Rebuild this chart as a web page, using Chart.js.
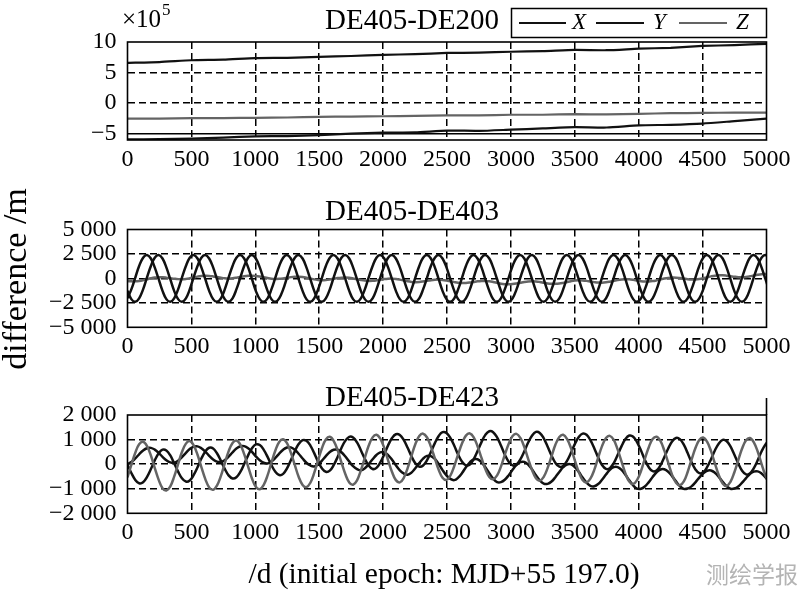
<!DOCTYPE html>
<html><head><meta charset="utf-8">
<script src="https://cdn.jsdelivr.net/npm/chart.js@4.4.1/dist/chart.umd.min.js"></script>
<style>
html,body{margin:0;padding:0;background:#fff;}
#wrap{position:relative;width:800px;height:593px;overflow:hidden;background:#fff;}
canvas{position:absolute;left:0;}
</style></head><body>
<div id="wrap">
<canvas id="c1" width="800" height="170" style="top:0px;width:800px;height:170px"></canvas>
<canvas id="c2" width="800" height="205" style="top:170px;width:800px;height:205px"></canvas>
<canvas id="c3" width="800" height="218" style="top:375px;width:800px;height:218px"></canvas>
</div>
<script>
// ---------- data ----------
const X_TICKS = [0,500,1000,1500,2000,2500,3000,3500,4000,4500,5000];

// Panel 1: DE405-DE200 (x10^5 m)
const P1_DAYS = [0,250,500,750,1000,1250,1500,1750,2000,2250,2500,2750,3000,3250,3500,3750,4000,4250,4500,4750,5000];
const P1_X = [6.58,6.7,7.0,7.1,7.35,7.4,7.55,7.7,7.9,8.0,8.2,8.25,8.4,8.5,8.7,8.65,8.9,9.05,9.35,9.5,9.7];
const P1_Y = [-6.0,-5.95,-5.85,-5.7,-5.5,-5.45,-5.3,-5.05,-4.9,-4.85,-4.55,-4.6,-4.4,-4.2,-4.0,-4.05,-3.7,-3.6,-3.4,-3.0,-2.6];
const P1_Z = [-2.6,-2.6,-2.5,-2.5,-2.45,-2.4,-2.3,-2.25,-2.2,-2.15,-2.05,-2.05,-1.95,-1.95,-1.85,-1.9,-1.8,-1.7,-1.65,-1.6,-1.6];
const P1_YTICKS = [10,5,0,-5];
const P1_YLABELS = ['10','5','0','\u22125'];

// Sampling epochs (days) for panels 2 and 3
const DAYS = [0,30,61,91,122,152,183,213,244,274,304,335,
365,396,426,457,487,517,548,578,609,639,670,700,
731,761,791,822,852,883,913,944,974,1004,1035,1065,
1096,1126,1157,1187,1218,1248,1278,1309,1339,1370,1400,1431,
1461,1491,1522,1552,1583,1613,1644,1674,1705,1735,1765,1796,
1826,1857,1887,1918,1948,1978,2009,2039,2070,2100,2131,2161,
2192,2222,2252,2283,2313,2344,2374,2405,2435,2465,2496,2526,
2557,2587,2618,2648,2679,2709,2739,2770,2800,2831,2861,2892,
2922,2952,2983,3013,3044,3074,3105,3135,3166,3196,3226,3257,
3287,3318,3348,3379,3409,3439,3470,3500,3531,3561,3592,3622,
3653,3683,3713,3744,3774,3805,3835,3866,3896,3926,3957,3987,
4018,4048,4079,4109,4140,4170,4200,4231,4261,4292,4322,4353,
4383,4413,4444,4474,4505,4535,4566,4596,4627,4657,4687,4718,
4748,4779,4809,4840,4870,4900,4931,4961,4992,5022];

// Panel 2: DE405-DE403 (m)
const P2_X = [-2035,-1126,84,1272,2119,2398,2035,1126,-84,-1272,-2119,-2398,
-2035,-1126,84,1272,2119,2398,2035,1126,-84,-1272,-2119,-2398,
-2035,-1126,84,1272,2119,2398,2035,1126,-84,-1272,-2119,-2398,
-2035,-1126,84,1272,2119,2398,2035,1126,-84,-1272,-2119,-2398,
-2035,-1126,84,1272,2119,2398,2035,1126,-84,-1272,-2119,-2398,
-2035,-1126,84,1272,2119,2398,2035,1126,-84,-1272,-2119,-2398,
-2035,-1126,84,1272,2119,2398,2035,1126,-84,-1272,-2119,-2398,
-2035,-1126,84,1272,2119,2398,2035,1126,-84,-1272,-2119,-2398,
-2035,-1126,84,1272,2119,2398,2035,1126,-84,-1272,-2119,-2398,
-2035,-1126,84,1272,2119,2398,2035,1126,-84,-1272,-2119,-2398,
-2035,-1126,84,1272,2119,2398,2035,1126,-84,-1272,-2119,-2398,
-2035,-1126,84,1272,2119,2398,2035,1126,-84,-1272,-2119,-2398,
-2035,-1126,84,1272,2119,2398,2035,1126,-84,-1272,-2119,-2398,
-2035,-1126,84,1272,2119,2398,2035,1126,-84,-1272];
const P2_Y = [-1272,-2119,-2398,-2035,-1126,84,1272,2119,2398,2035,1126,-84,
-1272,-2119,-2398,-2035,-1126,84,1272,2119,2398,2035,1126,-84,
-1272,-2119,-2398,-2035,-1126,84,1272,2119,2398,2035,1126,-84,
-1272,-2119,-2398,-2035,-1126,84,1272,2119,2398,2035,1126,-84,
-1272,-2119,-2398,-2035,-1126,84,1272,2119,2398,2035,1126,-84,
-1272,-2119,-2398,-2035,-1126,84,1272,2119,2398,2035,1126,-84,
-1272,-2119,-2398,-2035,-1126,84,1272,2119,2398,2035,1126,-84,
-1272,-2119,-2398,-2035,-1126,84,1272,2119,2398,2035,1126,-84,
-1272,-2119,-2398,-2035,-1126,84,1272,2119,2398,2035,1126,-84,
-1272,-2119,-2398,-2035,-1126,84,1272,2119,2398,2035,1126,-84,
-1272,-2119,-2398,-2035,-1126,84,1272,2119,2398,2035,1126,-84,
-1272,-2119,-2398,-2035,-1126,84,1272,2119,2398,2035,1126,-84,
-1272,-2119,-2398,-2035,-1126,84,1272,2119,2398,2035,1126,-84,
-1272,-2119,-2398,-2035,-1126,84,1272,2119,2398,2035];
const P2_Z = [-270,-302,-300,-257,-180,-85,10,82,120,117,80,25,
-30,-74,-83,-52,13,97,180,240,267,252,203,137,
70,16,-5,16,70,143,215,265,280,255,195,118,
40,-24,-53,-42,3,67,130,170,177,142,73,-13,
-100,-157,-180,-162,-110,-40,30,77,90,62,0,-80,
-160,-224,-253,-242,-197,-133,-70,-30,-23,-58,-127,-213,
-300,-359,-383,-367,-317,-248,-180,-135,-123,-153,-217,-298,
-380,-445,-477,-467,-423,-362,-300,-261,-257,-293,-363,-452,
-540,-590,-605,-580,-520,-443,-365,-311,-290,-311,-365,-438,
-510,-551,-558,-525,-457,-371,-285,-222,-193,-206,-252,-316,
-380,-424,-433,-402,-337,-253,-170,-110,-83,-98,-147,-213,
-280,-315,-317,-277,-203,-112,-20,49,83,77,37,-22,
-80,-111,-108,-64,13,109,205,278,317,315,278,224,
170,126,115,146,210,293,375,435,460,445];
const P2_YTICKS = [5000,2500,0,-2500,-5000];
const P2_YLABELS = ['5 000','2 500','0','\u22122 500','\u22125 000'];

// Panel 3: DE405-DE423 (m)
const P3_X = [-14,-359,-640,-780,-738,-527,-201,152,441,589,557,354,
35,-302,-574,-707,-663,-449,-125,228,518,667,639,443,
133,-193,-456,-582,-533,-318,7,359,650,802,779,592,
296,-40,-313,-444,-395,-175,159,521,818,975,950,756,
448,103,-176,-312,-264,-44,292,657,956,1112,1084,884,
568,221,-59,-197,-151,68,402,765,1063,1217,1187,986,
668,320,37,-102,-57,159,492,854,1149,1302,1271,1067,
749,390,98,-49,-11,204,536,897,1191,1340,1302,1089,
759,396,99,-52,-17,193,521,878,1167,1312,1271,1053,
719,352,53,-102,-71,137,461,814,1101,1242,1197,977,
641,269,-37,-193,-163,46,374,732,1022,1164,1118,895,
551,178,-129,-286,-256,-49,279,636,925,1066,1020,795,
449,84,-214,-367,-334,-125,201,556,844,987,944,725,
389,27,-269,-419,-384,-172,156,514,804,950];
const P3_Y = [7,87,231,402,554,649,663,593,459,298,156,71,
57,138,285,459,614,711,723,648,509,341,192,103,
87,164,308,481,634,726,733,650,498,319,160,60,
28,105,252,430,588,680,682,589,424,230,56,-54,
-92,-13,141,327,491,587,587,486,310,104,-82,-200,
-251,-167,-2,198,374,478,476,368,177,-47,-249,-377,
-430,-344,-169,42,227,335,330,210,3,-242,-461,-601,
-650,-550,-359,-129,75,195,200,84,-125,-371,-591,-729,
-730,-634,-449,-228,-33,85,90,-20,-217,-452,-661,-791,
-801,-707,-530,-316,-125,-13,-9,-119,-314,-544,-751,-881,
-901,-809,-633,-421,-232,-121,-119,-231,-427,-659,-868,-999,
-1001,-907,-730,-520,-333,-218,-209,-307,-486,-700,-891,-1008,
-992,-904,-740,-546,-373,-267,-258,-350,-516,-714,-891,-999,
-992,-908,-753,-568,-402,-302,-293,-379,-536,-723];
const P3_Z = [-538,-28,464,806,908,741,353,-153,-639,-977,-1073,-902,
-508,2,494,836,938,771,383,-123,-609,-947,-1043,-872,
-478,32,522,864,965,797,408,-98,-586,-924,-1021,-851,
-458,58,556,904,1011,851,468,-32,-512,-844,-935,-757,
-358,158,656,1004,1111,951,568,68,-412,-744,-835,-657,
-254,256,746,1090,1195,1034,654,158,-320,-650,-741,-568,
-160,333,809,1141,1241,1085,715,234,-230,-550,-640,-472,
-77,393,847,1161,1251,1093,727,253,-203,-521,-615,-459,
-102,372,827,1143,1231,1068,697,215,-248,-572,-670,-515,
-160,322,787,1108,1198,1031,650,158,-317,-648,-748,-591,
-225,264,734,1060,1151,983,600,103,-375,-709,-810,-650,
-279,216,691,1021,1115,945,559,58,-425,-761,-861,-699,
-319,177,655,986,1081,914,529,29,-451,-786,-885,-720,
-339,158,636,969,1065,898,514,15,-465,-798];
const P3_YTICKS = [2000,1000,0,-1000,-2000];
const P3_YLABELS = ['2 000','1 000','0','\u22121 000','\u22122 000'];

const SERIES_NAMES = ['X','Y','Z'];
const BLACK = '#111111';
const GRAY = '#646464';

// ---------- helpers ----------
const SERIF = '"Liberation Serif","Times New Roman",serif';
const TEXTS = {};

function pts(days, vals){ return days.map((d,i)=>({x:d, y:vals[i]})); }

const textPlugin = {
  id:'texts',
  afterDraw(chart){
    const items = TEXTS[chart.canvas.id] || [];
    const ctx = chart.ctx;
    items.forEach(it=>{
      ctx.save();
      ctx.font = it.font; ctx.fillStyle = it.color || '#000';
      ctx.textAlign = it.align || 'center'; ctx.textBaseline = 'middle';
      ctx.translate(it.x, it.y); if (it.rot) ctx.rotate(it.rot);
      ctx.fillText(it.t, 0, 0);
      ctx.restore();
    });
  }
};

const framePlugin = {
  id:'frame',
  afterDatasetsDraw(chart){
    const a = chart.chartArea, ctx = chart.ctx;
    ctx.save();
    ctx.strokeStyle = '#000'; ctx.lineWidth = 1.6;
    ctx.strokeRect(a.left, a.top, a.right-a.left, a.bottom-a.top);
    if (chart.canvas.id === 'c3') {
      ctx.beginPath(); ctx.moveTo(a.right, a.top); ctx.lineTo(a.right, a.top-17); ctx.stroke();
    }
    ctx.restore();
  }
};

const legendPlugin = {
  id:'boxlegend',
  afterDraw(chart){
    if (chart.canvas.id !== 'c1') return;
    const ctx = chart.ctx;
    ctx.save();
    ctx.strokeStyle = '#000'; ctx.lineWidth = 1.5;
    ctx.strokeRect(511.5, 8.5, 255, 29);
    const lines = [[519,566,572],[596,644,653],[679,727,736]];
    chart.data.datasets.forEach((ds,i)=>{
      const L = lines[i];
      ctx.strokeStyle = ds.borderColor; ctx.lineWidth = 2;
      ctx.beginPath(); ctx.moveTo(L[0],23); ctx.lineTo(L[1],23); ctx.stroke();
      ctx.fillStyle = '#000'; ctx.font = 'italic 23px ' + SERIF;
      ctx.textAlign = 'left'; ctx.textBaseline = 'middle';
      ctx.fillText(ds.label, L[2], 23);
    });
    ctx.restore();
  }
};

function makeChart(id, cfg){
  const yT = cfg.yTicks, yL = cfg.yLabels;
  return new Chart(document.getElementById(id), {
    type:'line',
    data:{datasets: cfg.datasets},
    options:{
      responsive:false, animation:false, devicePixelRatio:1,
      layout:{padding:{top:cfg.top, right:33.5, left:0, bottom:0}},
      plugins:{legend:{display:false}, tooltip:{enabled:false}, title:{display:false}},
      elements:{point:{radius:0}, line:{borderWidth:cfg.lw, tension:cfg.tension}},
      scales:{
        x:{type:'linear', min:0, max:5000,
          afterBuildTicks:s=>{ s.ticks = X_TICKS.map(v=>({value:v})); },
          afterFit:s=>{ s.height = cfg.xh; },
          grid:{drawTicks:false, lineWidth:1.5,
            color:c=> (c.tick && (c.tick.value===0 || c.tick.value===5000)) ? 'rgba(0,0,0,0)' : '#000'},
          border:{display:false, dash:[7,4]},
          ticks:{padding:5, autoSkip:false, maxRotation:0, color:'#000',
            font:{family:SERIF, size:24}, callback:v=>String(v)}
        },
        y:{type:'linear', min:cfg.ymin, max:cfg.ymax,
          afterBuildTicks:s=>{ s.ticks = yT.map(v=>({value:v})); },
          afterFit:s=>{ s.width = 127.5; },
          grid:{drawTicks:false, lineWidth:1.5,
            color:c=> (c.tick && (c.tick.value===cfg.ymax || c.tick.value===cfg.ymin)) ? 'rgba(0,0,0,0)' : '#000'},
          border:{display:false, dash:c=> (c.tick && cfg.solid!==undefined && c.tick.value===cfg.solid) ? [] : [7,4]},
          ticks:{padding:11, autoSkip:false, color:'#000',
            font:{family:SERIF, size:24}, callback:(v,i)=>yL[i]}
        }
      }
    },
    plugins:[textPlugin, framePlugin, legendPlugin]
  });
}

// ---------- texts ----------
TEXTS.c1 = [
  {t:'DE405-DE200', x:412, y:21, font:'29px '+SERIF},
  {t:'\u00d710', x:122, y:20, font:'25px '+SERIF, align:'left'},
  {t:'5', x:162, y:11, font:'17px '+SERIF, align:'left'}
];
TEXTS.c2 = [
  {t:'DE405-DE403', x:412, y:42, font:'29px '+SERIF},
  {t:'difference /m', x:17, y:109, font:'34px '+SERIF, rot:-Math.PI/2}
];
TEXTS.c3 = [
  {t:'DE405-DE423', x:412, y:23, font:'29px '+SERIF},
  {t:'/d (initial epoch: MJD+55 197.0)', x:444, y:200, font:'29.5px '+SERIF},
  {t:'测绘学报', x:752, y:199, font:'23px "Noto Sans CJK SC",sans-serif', color:'#b4b4b4'}
];

// ---------- charts ----------
makeChart('c1', {
  top:42, xh:30, ymin:-6.1, ymax:10, yTicks:P1_YTICKS, yLabels:P1_YLABELS, solid:-5, tension:0.2, lw:2.2,
  datasets:[
    {label:SERIES_NAMES[0], data:pts(P1_DAYS,P1_X), borderColor:BLACK},
    {label:SERIES_NAMES[1], data:pts(P1_DAYS,P1_Y), borderColor:BLACK},
    {label:SERIES_NAMES[2], data:pts(P1_DAYS,P1_Z), borderColor:GRAY}
  ]
});
makeChart('c2', {
  top:59.5, xh:47.7, ymin:-5000, ymax:5000, yTicks:P2_YTICKS, yLabels:P2_YLABELS, tension:0.4, lw:2.5,
  datasets:[
    {label:SERIES_NAMES[0], data:pts(DAYS,P2_X), borderColor:BLACK},
    {label:SERIES_NAMES[1], data:pts(DAYS,P2_Y), borderColor:BLACK},
    {label:SERIES_NAMES[2], data:pts(DAYS,P2_Z), borderColor:GRAY}
  ]
});
makeChart('c3', {
  top:40, xh:79.7, ymin:-2000, ymax:2000, yTicks:P3_YTICKS, yLabels:P3_YLABELS, tension:0.4, lw:2.5,
  datasets:[
    {label:SERIES_NAMES[2], data:pts(DAYS,P3_Z), borderColor:GRAY},
    {label:SERIES_NAMES[0], data:pts(DAYS,P3_X), borderColor:BLACK},
    {label:SERIES_NAMES[1], data:pts(DAYS,P3_Y), borderColor:BLACK}
  ]
});
</script>
</body></html>
